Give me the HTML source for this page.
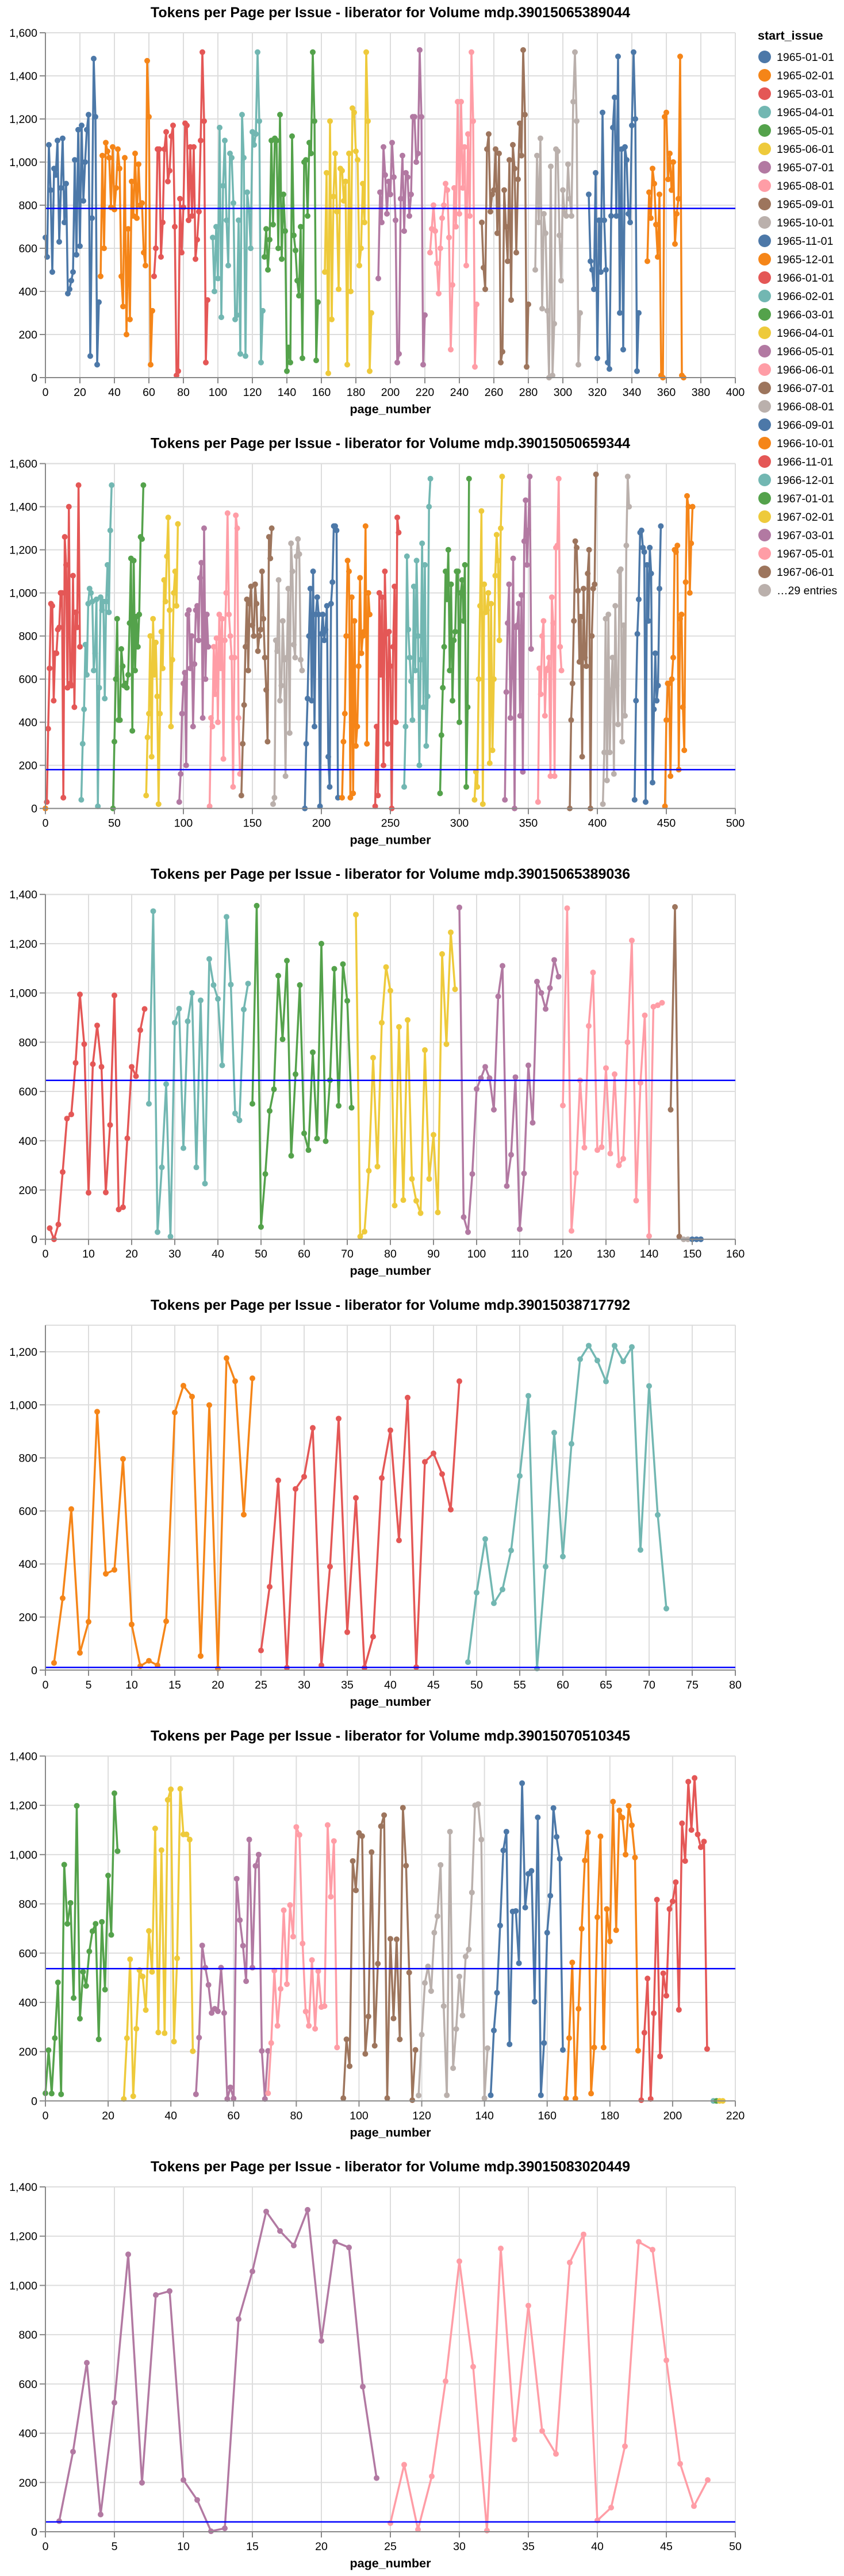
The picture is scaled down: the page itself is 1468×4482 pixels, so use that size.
<!DOCTYPE html>
<html><head><meta charset="utf-8"><style>
body{margin:0;background:#fff}
svg{display:block;font-family:"Liberation Sans",Arial,sans-serif}
</style></head><body>
<svg id="root" width="1468" height="4482" viewBox="0 0 1468 4482" xmlns="http://www.w3.org/2000/svg"></svg>
<script>
const palette=["#4c78a8","#f58518","#e45756","#72b7b2","#54a24b","#eeca3b","#b279a2","#ff9da6","#9d755d","#bab0ac"];
const legendLabels=["1965-01-01","1965-02-01","1965-03-01","1965-04-01","1965-05-01","1965-06-01","1965-07-01","1965-08-01","1965-09-01","1965-10-01","1965-11-01","1965-12-01","1966-01-01","1966-02-01","1966-03-01","1966-04-01","1966-05-01","1966-06-01","1966-07-01","1966-08-01","1966-09-01","1966-10-01","1966-11-01","1966-12-01","1967-01-01","1967-02-01","1967-03-01","1967-05-01","1967-06-01"];

// ---- chart 1: mdp.39015065389044
const c1Volume="mdp.39015065389044";
const c1Colors=[0,1,2,3,4,5,6,7,8,9,0,1];
const c1Starts=[0,32,63,97,127,162,193,223,253,284,315,349];
const c1Values=[
[650,560,1080,870,490,970,940,1100,630,880,1110,720,900,390,410,450,490,1010,570,1150,610,1170,820,1000,1150,1220,100,740,1480,1210,60,350],
[470,1030,600,1090,1050,1020,790,1070,780,880,1060,970,470,330,1020,200,690,270,910,750,1040,740,990,800,810,580,520,1470,1210,60,310],
[470,600,1060,1060,560,720,1060,1140,910,960,1120,1170,700,10,30,830,580,790,1180,1170,730,1070,750,1070,550,640,770,1100,1510,1190,70,360],
[650,400,700,460,1160,280,890,1100,730,520,1040,1020,810,270,290,730,110,1220,1020,100,860,780,600,1140,1080,1130,1510,1190,70,310],
[560,690,500,640,1100,710,1110,1100,600,1220,550,850,680,30,140,70,1120,660,590,450,380,700,90,1000,1010,750,1090,1040,1510,1190,80,350],
[490,950,20,1190,270,840,1040,770,410,970,960,820,910,60,1040,400,1250,1230,1050,1010,520,600,900,720,1510,1190,30,300],
[460,860,720,1070,940,760,910,850,1090,930,730,70,110,830,1030,680,950,930,750,850,1210,1210,1000,1040,1520,1210,60,290],
[580,690,800,680,530,390,600,740,800,900,870,650,130,430,880,700,1280,760,1280,880,1070,520,1130,750,1510,1190,50,340],
[720,510,410,1060,1130,770,850,870,1060,670,1040,70,120,870,700,540,1010,360,1080,970,580,920,1180,1030,1520,1220,50,340],
[500,1030,720,1110,320,760,670,310,0,980,10,250,1060,1050,660,450,870,760,750,990,830,750,1280,1510,1190,60,300],
[850,540,500,410,950,90,730,490,1230,730,500,70,40,750,1160,1300,750,1490,300,1060,130,1070,1010,760,720,1170,1510,1200,30,300],
[540,860,740,970,900,710,560,850,10,0,1210,1230,920,1040,870,1000,620,760,830,1490,10,0]];
const c1Mean=785;

// ---- chart 2: mdp.39015050659344
const c2Volume="mdp.39015050659344";
const c2Colors=[1,2,3,4,5,6,7,8,9,0,1,2,3,4,5,6,7,8,9,0,1];
const c2Starts=[0,1,26,49,73,97,119,142,165,188,215,239,260,286,311,333,357,380,404,427,449];
const c2Values=[
[0],
[30,370,650,950,940,500,720,720,830,840,1000,1000,50,1260,1130,560,1400,580,570,1080,470,910,840,1500,750],
[40,300,460,760,620,950,1020,1000,960,640,720,970,10,560,980,920,960,510,960,1130,910,1290,1500],
[0,310,600,880,410,410,740,660,570,580,560,620,860,1160,360,1150,640,890,750,900,1260,1250,1500],
[60,330,440,800,240,880,620,770,520,20,440,820,650,1060,960,1170,1350,920,380,690,1000,1100,940,1320],
[30,160,440,580,630,200,900,920,650,800,380,670,920,940,780,1070,1140,420,1300,600,900,750],
[10,420,380,750,530,790,400,900,650,880,230,780,1000,1370,900,800,700,100,700,1360,1300,420,160],
[60,300,480,750,970,640,950,1030,850,800,1040,950,730,800,830,1100,880,700,550,310,1260,1160,1300],
[20,50,780,730,1060,500,570,870,690,150,700,1020,350,1230,1100,760,700,1170,1250,1180,690,640],
[0,300,510,800,1020,500,1100,380,900,980,900,10,810,900,780,830,940,240,100,950,1050,1310,1310,1290,50],
[50,310,440,800,1150,1100,50,980,70,870,290,380,660,1070,720,800,820,1310,300,1000,900],
[10,380,60,1000,620,980,200,1100,810,300,820,660,0,750,1030,400,1350,1280],
[100,380,1170,830,700,590,410,1030,640,1150,800,200,690,1230,470,1130,290,520,1400,1530],
[70,340,560,750,1100,970,1200,640,1040,500,780,820,1100,1100,400,1000,1060,870,1130,100,470,1530],
[40,170,100,600,940,1380,20,1040,910,920,1000,210,950,270,600,1080,1270,1150,780,1300,1540],
[40,540,860,1040,420,610,1160,0,840,850,950,430,990,170,1240,1430,1130,1290,1540,740],
[30,650,530,800,870,430,640,650,700,150,980,860,150,1210,1220,1530,750,640],
[0,410,580,870,1240,1210,1010,680,890,240,1020,700,660,1090,1200,0,800,1020,1040,1550],
[20,260,880,130,900,260,550,700,160,940,570,390,1100,1110,310,850,430,1220,1540,1400],
[40,500,810,970,1280,1290,1210,1190,30,1130,870,1210,1090,120,460,720,500,570,1020,1310],
[10,410,580,580,150,600,700,1200,1190,1220,180,880,900,470,270,1050,1450,1400,1000,1230,1400]];
const c2Mean=180;

// ---- chart 3: mdp.39015065389036
const c3Volume="mdp.39015065389036";
const c3Colors=[2,3,4,5,6,7,8,9,0];
const c3Starts=[1,24,48,72,96,120,145,148,150];
const c3Values=[
[45,0,60,273,490,507,716,994,792,189,711,868,700,190,464,990,121,130,410,700,662,849,935],
[550,1332,29,292,630,11,879,936,370,885,1000,292,970,226,1138,1032,976,706,1309,1034,511,483,933,1038],
[550,1354,50,265,521,609,1070,812,1131,339,670,1032,430,362,759,409,1200,398,646,1098,542,1117,968,534],
[1318,11,31,278,737,295,879,1105,1009,137,862,159,890,245,156,106,768,245,424,109,1158,792,1246,1015],
[1347,90,29,265,610,654,700,654,526,986,1110,216,343,658,41,267,706,473,1046,1000,935,1020,1134,1066],
[543,1344,34,269,645,372,866,1083,362,374,695,348,670,300,327,800,1213,157,635,909,13,944,950,960],
[526,1349,11],
[0,0],
[0,0,0]];
const c3Mean=645;

// ---- chart 4: mdp.39015038717792
const c4Volume="mdp.39015038717792";
const c4Colors=[1,2,3];
const c4Starts=[1,25,49];
const c4Values=[
[27,271,607,65,182,974,363,378,796,172,15,35,18,184,971,1072,1031,53,999,6,1176,1089,586,1100],
[74,314,715,9,683,729,913,18,390,948,143,649,9,126,724,904,489,1027,11,785,817,739,605,1089],
[30,292,494,252,304,451,732,1034,6,390,895,428,853,1172,1223,1167,1088,1223,1164,1218,453,1071,585,232]];
const c4Mean=10;

// ---- chart 5: mdp.39015070510345
const c5Volume="mdp.39015070510345";
const c5Colors=[4,5,6,7,8,9,0,1,2,3,4,5];
const c5Starts=[0,25,48,71,95,119,142,166,190,213,214,215];
const c5Values=[
[31,206,30,255,481,27,959,719,804,418,1198,334,524,467,607,689,719,250,727,452,915,674,1249,1014],
[8,255,575,19,293,531,505,369,690,524,1106,278,1018,275,1222,1265,241,579,1267,1082,1082,1061,202],
[27,257,631,541,471,357,374,364,541,357,8,55,10,902,734,630,486,1061,541,954,1000,203,8,203],
[31,235,529,305,455,774,474,795,667,1112,1080,639,363,305,572,293,527,381,385,1120,829,1055,217],
[11,250,141,974,855,1088,1075,191,343,1010,224,557,1115,1160,11,658,335,656,250,1190,955,521,3,207],
[22,269,479,546,446,683,750,958,385,23,1093,133,292,505,347,586,615,846,1200,1205,1061,11,214],
[23,286,439,712,1017,1093,230,769,771,559,1290,785,922,934,403,1151,23,235,683,833,1189,1072,983,207],
[10,255,562,10,374,699,976,1090,30,217,746,1074,217,779,648,1215,693,1179,1150,1000,1198,1119,988,204],
[3,277,497,8,356,817,181,518,427,779,810,888,370,1127,974,1296,1100,1311,1082,1030,1053,211],
[0],[0],[0,0]];
const c5Mean=537;

// ---- chart 6: mdp.39015083020449
const c6Volume="mdp.39015083020449";
const c6Colors=[6,7];
const c6Starts=[1,25];
const c6Values=[
[43,325,686,70,524,1126,199,961,977,210,129,2,14,863,1057,1300,1221,1162,1307,775,1177,1154,589,218],
[35,272,9,225,611,1098,670,5,1150,375,918,409,316,1093,1207,46,98,347,1177,1145,696,276,104,210]];
const c6Mean=40;

const charts=[
 {vol:c1Volume,colors:c1Colors,starts:c1Starts,values:c1Values,mean:c1Mean,xMax:400,xStep:20,yMax:1600,yStep:200},
 {vol:c2Volume,colors:c2Colors,starts:c2Starts,values:c2Values,mean:c2Mean,xMax:500,xStep:50,yMax:1600,yStep:200},
 {vol:c3Volume,colors:c3Colors,starts:c3Starts,values:c3Values,mean:c3Mean,xMax:160,xStep:10,yMax:1400,yStep:200},
 {vol:c4Volume,colors:c4Colors,starts:c4Starts,values:c4Values,mean:c4Mean,xMax:80,xStep:5,yMax:1300,yStep:200},
 {vol:c5Volume,colors:c5Colors,starts:c5Starts,values:c5Values,mean:c5Mean,xMax:220,xStep:20,yMax:1400,yStep:200},
 {vol:c6Volume,colors:c6Colors,starts:c6Starts,values:c6Values,mean:c6Mean,xMax:50,xStep:5,yMax:1400,yStep:200}
];

const NS="http://www.w3.org/2000/svg";
const root=document.getElementById('root');
function mk(tag,attrs,parent){const e=document.createElementNS(NS,tag);for(const k in attrs)e.setAttribute(k,attrs[k]);(parent||root).appendChild(e);return e;}
const L=79,W=1200,H=600;
function fmt(v){return v.toLocaleString('en-US');}

charts.forEach((c,ci)=>{
  const top=57+ci*749.6, bot=top+H;
  const g=mk('g',{});
  
  
  const xs=v=>L+v/c.xMax*W;
  const ys=v=>bot-v/c.yMax*H;
  // grid
  for(let v=0;v<=c.xMax;v+=c.xStep){
    const l=mk('line',{x1:xs(v),x2:xs(v),y1:top,y2:bot,stroke:'#ddd','stroke-width':2},g);
    
    
  }
  for(let v=0;v<=c.yMax;v+=c.yStep){
    const l=mk('line',{x1:L,x2:L+W,y1:ys(v),y2:ys(v),stroke:'#ddd','stroke-width':2},g);
    
    
  }
  mk('line',{x1:L,x2:L+W,y1:top,y2:top,stroke:'#ddd','stroke-width':2},g);
  mk('line',{x1:L+W,x2:L+W,y1:top,y2:bot,stroke:'#ddd','stroke-width':2},g);
  // series
  c.values.forEach((vals,si)=>{
    const col=palette[c.colors[si]];
    const sg=mk('g',{},g);
    
    
    const pts=vals.map((v,i)=>xs(c.starts[si]+i).toFixed(1)+','+ys(v).toFixed(1)).join(' ');
    if(vals.length>1){
      const pl=mk('polyline',{points:pts,fill:'none',stroke:col,'stroke-width':3.5,'stroke-linejoin':'round'},sg);
      
      
    }
    vals.forEach((v,i)=>{
      const p=mk('circle',{cx:xs(c.starts[si]+i),cy:ys(v),r:5,fill:col},sg);
      
      
    });
  });
  // mean line
  const ml=mk('line',{x1:L,x2:L+W,y1:ys(c.mean),y2:ys(c.mean),stroke:'#0000ff','stroke-width':2.5},g);
  
  
  // axes
  const xa=mk('line',{x1:L,x2:L+W,y1:bot,y2:bot,stroke:'#888','stroke-width':2},g);
  
  
  const ya=mk('line',{x1:L,x2:L,y1:top,y2:bot,stroke:'#888','stroke-width':2},g);
  
  
  for(let v=0;v<=c.xMax;v+=c.xStep){
    mk('line',{x1:xs(v),x2:xs(v),y1:bot,y2:bot+10,stroke:'#888','stroke-width':2},g);
    const t=mk('text',{x:xs(v),y:bot+32,'font-size':19.5,'text-anchor':'middle',fill:'#000'},g);
    t.textContent=fmt(v);
    
    
  }
  for(let v=0;v<=c.yMax;v+=c.yStep){
    mk('line',{x1:L-10,x2:L,y1:ys(v),y2:ys(v),stroke:'#888','stroke-width':2},g);
    const t=mk('text',{x:L-14,y:ys(v)+7,'font-size':19.5,'text-anchor':'end',fill:'#000'},g);
    t.textContent=fmt(v);
    
    
  }
  const xt=mk('text',{x:L+W/2,y:bot+62,'font-size':21.5,'font-weight':'bold','text-anchor':'middle',fill:'#000'},g);
  xt.textContent='page_number';
  
  
  const tt=mk('text',{x:L+W/2,y:top-27,'font-size':25,'font-weight':'bold','text-anchor':'middle',fill:'#000'},g);
  tt.textContent='Tokens per Page per Issue - liberator for Volume '+c.vol;
  
  
});

// legend
const lg=mk('g',{});


const lt=mk('text',{x:1318,y:69,'font-size':21.5,'font-weight':'bold',fill:'#000'},lg);
lt.textContent='start_issue';


legendLabels.concat(['…29 entries']).forEach((lab,i)=>{
  const cy=99+i*32;
  const eg=mk('g',{},lg);
  
  
  mk('circle',{cx:1330,cy:cy,r:11,fill:i<legendLabels.length?palette[i%10]:'#bab0ac'},eg);
  const t=mk('text',{x:1351,y:cy+7,'font-size':19.5,fill:'#000'},eg);
  t.textContent=lab;
});
</script>
</body></html>
